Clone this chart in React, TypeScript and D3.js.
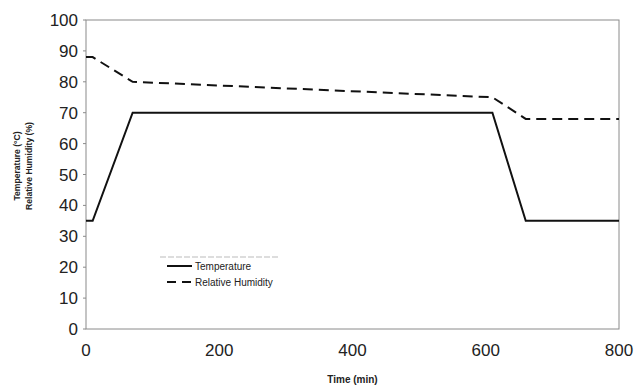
import { useEffect, useRef } from "react";
import * as d3 from "d3";

const timeMin = [0, 10, 70, 610, 660, 800];
const temperature = [35, 35, 70, 70, 35, 35];
const humidity = [88, 88, 80, 75, 68, 68];
const xTicks = [0, 200, 400, 600, 800];
const yTicks = [0, 10, 20, 30, 40, 50, 60, 70, 80, 90, 100];

const WIDTH = 634;
const HEIGHT = 387;
const PAD = { left: 86, right: 15, top: 20, bottom: 58 };
const FONT = "Liberation Sans, Arial, sans-serif";

export default function App() {
  const svgRef = useRef<SVGSVGElement | null>(null);

  useEffect(() => {
    const svgEl = svgRef.current;
    if (!svgEl) return;
    const svg = d3.select(svgEl);
    svg.selectAll("*").remove();

    const x = d3.scaleLinear().domain([0, 800]).range([PAD.left, WIDTH - PAD.right]);
    const y = d3.scaleLinear().domain([0, 100]).range([HEIGHT - PAD.bottom, PAD.top]);

    // Frame around the plot.
    svg
      .append("rect")
      .attr("x", PAD.left)
      .attr("y", PAD.top)
      .attr("width", WIDTH - PAD.left - PAD.right)
      .attr("height", HEIGHT - PAD.top - PAD.bottom)
      .attr("fill", "none")
      .attr("stroke", "#8a8a8a")
      .attr("stroke-width", 1);

    // Y ticks + labels.
    const gy = svg.append("g");
    yTicks.forEach((t) => {
      gy.append("line")
        .attr("x1", PAD.left - 3)
        .attr("x2", PAD.left)
        .attr("y1", y(t))
        .attr("y2", y(t))
        .attr("stroke", "#8a8a8a");
      gy.append("text")
        .attr("x", PAD.left - 8)
        .attr("y", y(t) + 6)
        .attr("text-anchor", "end")
        .attr("font-family", FONT)
        .attr("font-size", "17px")
        .attr("fill", "#222")
        .text(String(t));
    });

    // X tick labels.
    const gx = svg.append("g");
    xTicks.forEach((t) => {
      gx.append("text")
        .attr("x", x(t))
        .attr("y", 356)
        .attr("text-anchor", "middle")
        .attr("font-family", FONT)
        .attr("font-size", "17px")
        .attr("fill", "#222")
        .text(String(t));
    });

    // Axis titles.
    svg
      .append("text")
      .attr("x", (PAD.left + WIDTH - PAD.right) / 2)
      .attr("y", 383)
      .attr("text-anchor", "middle")
      .attr("font-family", FONT)
      .attr("font-size", "10px")
      .attr("font-weight", "bold")
      .attr("fill", "#222")
      .text("Time (min)");

    const cy = 166;
    const yTitle = svg
      .append("text")
      .attr("transform", `translate(0, ${cy}) rotate(-90)`)
      .attr("text-anchor", "middle")
      .attr("font-family", FONT)
      .attr("font-size", "8.6px")
      .attr("font-weight", "bold")
      .attr("fill", "#222");
    yTitle.append("tspan").attr("x", 0).attr("y", 20).text("Temperature (°C)");
    yTitle.append("tspan").attr("x", 0).attr("y", 32).text("Relative Humidity (%)");

    const idx = d3.range(timeMin.length);
    const line = (vals: number[]) =>
      d3
        .line<number>()
        .x((i) => x(timeMin[i]))
        .y((i) => y(vals[i]))(idx);

    svg
      .append("path")
      .attr("d", line(temperature))
      .attr("fill", "none")
      .attr("stroke", "#111")
      .attr("stroke-width", 2);

    svg
      .append("path")
      .attr("d", line(humidity))
      .attr("fill", "none")
      .attr("stroke", "#111")
      .attr("stroke-width", 2)
      .attr("stroke-dasharray", "10 6");

    // Legend.
    const lg = svg.append("g").attr("transform", "translate(160, 257)");
    lg.append("line")
      .attr("x1", 0)
      .attr("x2", 120)
      .attr("y1", 0)
      .attr("y2", 0)
      .attr("stroke", "#bbb")
      .attr("stroke-dasharray", "6 2");
    const entries = [
      { label: "Temperature", dash: null as string | null, dy: 9 },
      { label: "Relative Humidity", dash: "9 6", dy: 25 },
    ];
    entries.forEach((e) => {
      const l = lg
        .append("line")
        .attr("x1", 7)
        .attr("x2", 32)
        .attr("y1", e.dy)
        .attr("y2", e.dy)
        .attr("stroke", "#111")
        .attr("stroke-width", 2);
      if (e.dash) l.attr("stroke-dasharray", e.dash);
      lg.append("text")
        .attr("x", 35)
        .attr("y", e.dy + 4)
        .attr("font-family", FONT)
        .attr("font-size", "10px")
        .attr("fill", "#222")
        .text(e.label);
    });
  }, []);

  return (
    <svg
      ref={svgRef}
      width={WIDTH}
      height={HEIGHT}
      viewBox={`0 0 ${WIDTH} ${HEIGHT}`}
      style={{ position: "absolute", left: 0, top: 0, background: "#fff" }}
    />
  );
}
